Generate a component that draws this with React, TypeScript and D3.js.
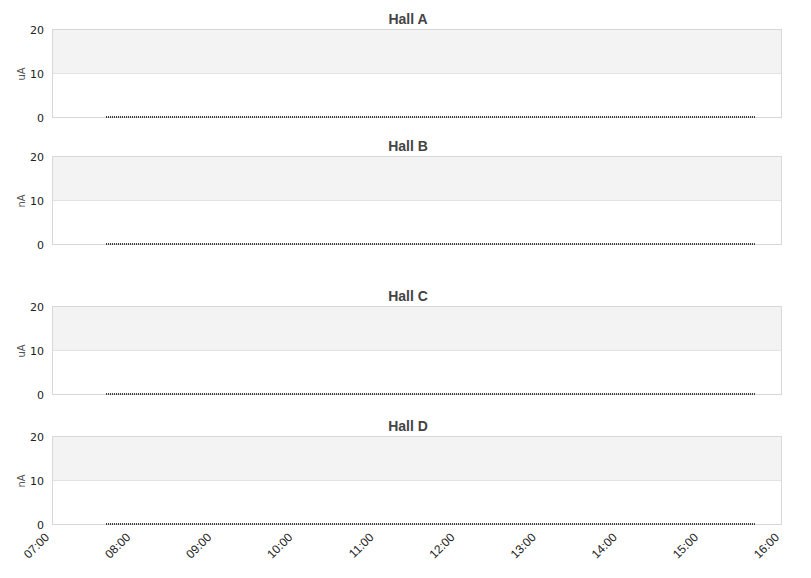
import React from "react";
import * as d3 from "d3";

const halls = ["Hall A", "Hall B", "Hall C", "Hall D"];
const units = ["uA", "nA", "uA", "nA"];
const yTicks = [0, 10, 20];
const xTicks = ["07:00", "08:00", "09:00", "10:00", "11:00", "12:00", "13:00", "14:00", "15:00", "16:00"];
// beam current readings, all flat at zero
const sampleTimes = ["07:40", "15:40"];
const hallValues = [
    [0, 0],
    [0, 0],
    [0, 0],
    [0, 0],
];
const panelTops = [29, 156, 306, 436];

const width = 811;
const height = 578;
const left = 52;
const right = 782;
const panelH = 88;

const parse = d3.timeParse("%H:%M");

export default function App() {
    const x = d3
        .scaleTime()
        .domain([parse("07:00") as Date, parse("16:00") as Date])
        .range([left, right]);

    const line = d3
        .line<[Date, number]>()
        .x((d) => x(d[0]))
        .y((d) => d[1]);

    return (
        <svg width={width} height={height} style={{ position: "absolute", top: 0, left: 0 }}>
            {halls.map((hall, i) => {
                const top = panelTops[i];
                const y = d3.scaleLinear().domain([0, 20]).range([top + panelH, top]);
                const pts: [Date, number][] = sampleTimes.map((t, j) => [parse(t) as Date, y(hallValues[i][j])]);
                return (
                    <g key={hall}>
                        <rect x={left} y={y(20)} width={right - left} height={y(10) - y(20)} fill="#f3f3f3" />
                        <line x1={left} x2={right} y1={y(10) + 0.5} y2={y(10) + 0.5} stroke="#e3e3e3" />
                        <rect
                            x={left + 0.5}
                            y={y(20) + 0.5}
                            width={right - left - 1}
                            height={panelH}
                            fill="none"
                            stroke="#d8d8d8"
                        />
                        {yTicks.map((t) => (
                            <text
                                key={t}
                                x={44}
                                y={y(t) + 1}
                                dy="0.35em"
                                textAnchor="end"
                                fontSize={11}
                                fontFamily="DejaVu Sans"
                                fill="#222"
                            >
                                {t}
                            </text>
                        ))}
                        <text
                            transform={`translate(25,${y(10) + 1}) rotate(-90)`}
                            textAnchor="middle"
                            fontSize={10}
                            fontFamily="DejaVu Sans"
                            fill="#555"
                        >
                            {units[i]}
                        </text>
                        <text
                            x={408}
                            y={top - 5}
                            textAnchor="middle"
                            fontSize={14}
                            fontWeight="bold"
                            fontFamily="Liberation Sans, Arial, sans-serif"
                            fill="#444"
                        >
                            {hall}
                        </text>
                        <path
                            d={line(pts) || ""}
                            fill="none"
                            stroke="#333"
                            strokeWidth={2}
                            strokeDasharray="1,1"
                        />
                    </g>
                );
            })}
            {xTicks.map((t) => (
                <text
                    key={t}
                    transform={`translate(${x(parse(t) as Date) - 2},${538}) rotate(-45)`}
                    textAnchor="end"
                    fontSize={12}
                    fontFamily="Liberation Sans, Arial, sans-serif"
                    fill="#222"
                >
                    {t}
                </text>
            ))}
        </svg>
    );
}
